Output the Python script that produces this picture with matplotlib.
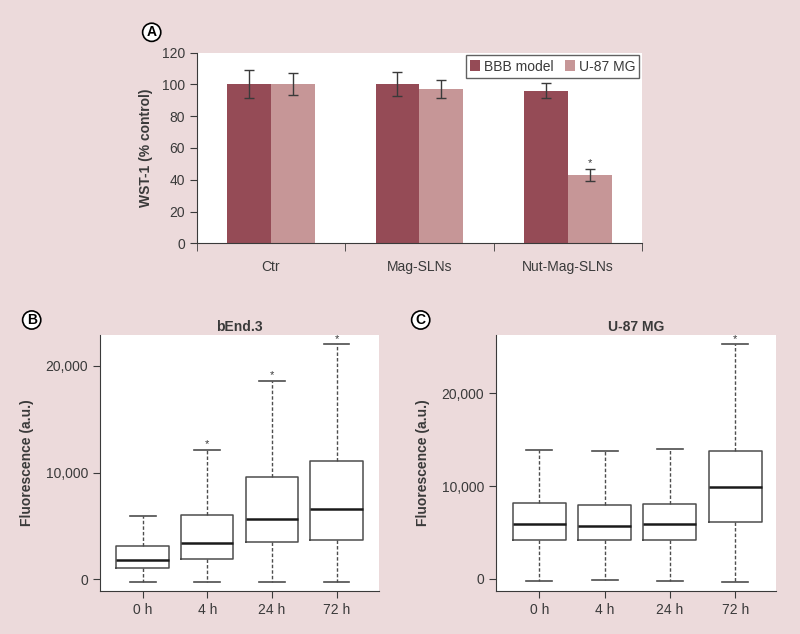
import matplotlib
matplotlib.use("Agg")
import matplotlib.pyplot as plt
from matplotlib.ticker import FuncFormatter
from matplotlib.patches import Patch

plt.rcParams['font.family'] = ['Liberation Sans', 'DejaVu Sans']

# ---------------- data ----------------
groups = ["Ctr", "Mag-SLNs", "Nut-Mag-SLNs"]
bbb_vals = [100.3, 100.3, 96.1]
bbb_err = [8.6, 7.7, 4.8]
u87_vals = [100.3, 96.9, 43.0]
u87_err = [7.0, 5.7, 3.7]
u87_sig = [False, False, True]
series_names = ["BBB model", "U-87 MG"]

times = ["0 h", "4 h", "24 h", "72 h"]
# bEnd.3 : whislo, q1, med, q3, whishi
bend_lo = [-220, -220, -220, -220]
bend_q1 = [1090, 1930, 3530, 3680]
bend_med = [1810, 3430, 5680, 6550]
bend_q3 = [3120, 6050, 9610, 11040]
bend_hi = [5960, 12100, 18600, 22000]
bend_sig = [False, True, True, True]
# U-87 MG
u87_lo = [-220, -150, -290, -320]
u87_q1 = [4140, 4140, 4140, 6110]
u87_med = [5860, 5680, 5940, 9860]
u87_q3 = [8200, 7990, 8090, 13810]
u87_hi = [13850, 13780, 14030, 25290]
u87_box_sig = [False, False, False, True]

# ---------------- style ----------------
BG = "#ecdadb"
DARK = "#954b56"
LIGHT = "#c69697"
LINE = "#3a3a3a"
BOXLINE = "#4d4d4d"
FS = 10

fig = plt.figure(figsize=(8, 6.34), dpi=100, facecolor=BG)

# ---------------- Panel A ----------------
axA = fig.add_axes([0.2459, 0.6163, 0.5566, 0.3006])
axA.set_facecolor("white")
x = list(range(len(groups)))
bw = 0.295
xd = [i - bw / 2 for i in x]
xl = [i + bw / 2 for i in x]
axA.bar(xd, bbb_vals, width=bw, color=DARK, label=series_names[0], zorder=2)
axA.bar(xl, u87_vals, width=bw, color=LIGHT, label=series_names[1], zorder=2)
axA.errorbar(xd, bbb_vals, yerr=bbb_err, fmt='none', ecolor=LINE, elinewidth=1, capsize=3.5, capthick=1, zorder=3)
axA.errorbar(xl, u87_vals, yerr=u87_err, fmt='none', ecolor=LINE, elinewidth=1, capsize=3.5, capthick=1, zorder=3)
for xi, v, e, s in zip(xl, u87_vals, u87_err, u87_sig):
    if s:
        axA.annotate("*", (xi, v + e), xytext=(0, 1), textcoords="offset points",
                     ha="center", va="bottom", fontsize=8, color=LINE)
axA.set_xlim(-0.5, 2.5)
axA.set_ylim(0, 120)
axA.set_yticks(range(0, 121, 20))
axA.set_xticks(x)
axA.set_xticklabels(groups, fontsize=FS, color=LINE)
axA.tick_params(axis='x', length=0, pad=12)
axA.set_xticks([-0.5, 0.5, 1.5, 2.5], minor=True)
axA.tick_params(axis='x', which='minor', length=6, direction='out', color=LINE)
axA.tick_params(axis='y', labelsize=FS, labelcolor=LINE, color=LINE, length=5)
for sp in ["top", "right"]:
    axA.spines[sp].set_visible(False)
for sp in ["left", "bottom"]:
    axA.spines[sp].set_color(LINE)
axA.set_ylabel("WST-1 (% control)", fontsize=FS, fontweight="bold", color=LINE, labelpad=6)
handles = [Patch(facecolor=DARK), Patch(facecolor=LIGHT)]
leg = axA.legend(handles, series_names, loc="upper right", ncol=2, fontsize=10,
                 frameon=True, fancybox=False, edgecolor=LINE, handlelength=0.75,
                 handleheight=0.8, handletextpad=0.25, columnspacing=0.8,
                 borderaxespad=0.2, borderpad=0.3)
leg.get_frame().set_linewidth(1)
for t in leg.get_texts():
    t.set_color(LINE)

fig.text(151.7 / 800, 1 - 32.3 / 634, "A", fontsize=10, fontweight="bold", ha="center", va="center",
         bbox=dict(boxstyle="circle,pad=0.15", fc="white", ec="black", lw=1.2))


# ---------------- box panels ----------------
def comma(v, pos):
    return f"{int(v):,}"


def box_panel(rect, title, lo, q1, med, q3, hi, sig, ylim, xlim, letter, lx):
    ax = fig.add_axes(rect)
    ax.set_facecolor("white")
    stats = []
    for i in range(len(times)):
        stats.append(dict(whislo=lo[i], q1=q1[i], med=med[i], q3=q3[i], whishi=hi[i], fliers=[]))
    ax.bxp(stats, positions=range(1, len(times) + 1), widths=0.81, showfliers=False,
           boxprops=dict(color=BOXLINE, linewidth=1.1),
           medianprops=dict(color="#1a1a1a", linewidth=1.8),
           whiskerprops=dict(color=BOXLINE, linewidth=1.0, linestyle=(0, (2.5, 1.5))),
           capprops=dict(color=BOXLINE, linewidth=1.2),
           capwidths=0.4)
    for i, s in enumerate(sig):
        if s:
            ax.annotate("*", (i + 1, hi[i]), xytext=(0, 0.5), textcoords="offset points",
                        ha="center", va="bottom", fontsize=8, color=LINE)
    ax.set_xlim(*xlim)
    ax.set_ylim(*ylim)
    ax.set_xticks(range(1, len(times) + 1))
    ax.set_xticklabels(times)
    ax.set_yticks([0, 10000, 20000])
    ax.yaxis.set_major_formatter(FuncFormatter(comma))
    ax.tick_params(labelsize=FS, labelcolor=LINE, color=LINE, length=5)
    for sp in ["top", "right"]:
        ax.spines[sp].set_visible(False)
    for sp in ["left", "bottom"]:
        ax.spines[sp].set_color(LINE)
    ax.set_title(title, fontsize=FS, fontweight="bold", color=LINE, pad=3)
    ax.set_ylabel("Fluorescence (a.u.)", fontsize=FS, fontweight="bold", color=LINE, labelpad=8)
    fig.text(lx / 800, 1 - 320 / 634, letter, fontsize=10, fontweight="bold", ha="center", va="center",
             bbox=dict(boxstyle="circle,pad=0.15", fc="white", ec="black", lw=1.2))
    return ax


box_panel([0.125, 0.0678, 0.349, 0.4038], "bEnd.3", bend_lo, bend_q1, bend_med, bend_q3, bend_hi,
          bend_sig, (-1090, 22870), (0.34, 4.66), "B", 31.7)
box_panel([0.62, 0.0678, 0.3496, 0.4038], "U-87 MG", u87_lo, u87_q1, u87_med, u87_q3, u87_hi,
          u87_box_sig, (-1330, 26300), (0.336, 4.62), "C", 420.7)

fig.savefig("out.png", dpi=100, facecolor=BG)
